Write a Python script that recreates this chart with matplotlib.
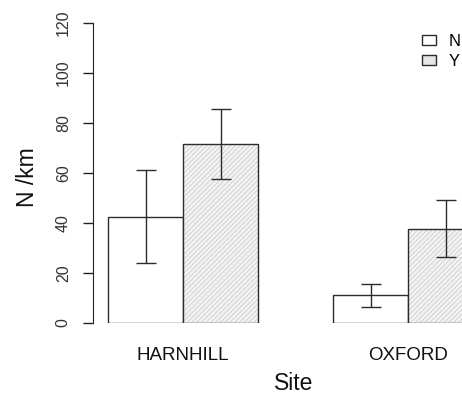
import numpy as np
import matplotlib
matplotlib.use("Agg")
import matplotlib.pyplot as plt
from matplotlib.patches import Patch

plt.rcParams['font.family'] = ['Liberation Sans', 'DejaVu Sans']
plt.rcParams['hatch.linewidth'] = 0.5

# data
sites = ["HARNHILL", "OXFORD"]
groups = ["N", "Y"]
means = {"N": [42.4, 11.2], "Y": [71.6, 37.6]}
lower = {"N": [24.0, 6.4], "Y": [57.6, 26.4]}
upper = {"N": [61.2, 15.6], "Y": [85.6, 49.2]}
yticks = [0, 20, 40, 60, 80, 100, 120]

fig = plt.figure(figsize=(4.62, 4.03), dpi=100)
ax = fig.add_axes([93 / 462, 80 / 403, 369 / 462, 300 / 403])

edge = "#2b2b2b"
# R barplot style layout: space 1 before each group, bars of width 1
for j, site in enumerate(sites):
    start = 1 + 3 * j
    for k, g in enumerate(groups):
        x = start + k + 0.5
        m = means[g][j]
        if g == "Y":
            ax.bar(x, m, width=1, color="#f3f3f3", edgecolor="#c6c6c6",
                   hatch="///////", linewidth=0)
        ax.bar(x, m, width=1, facecolor="none" if g == "Y" else "white",
               edgecolor=edge, linewidth=1.0)
        ax.errorbar(x, m, yerr=[[m - lower[g][j]], [upper[g][j] - m]],
                    fmt="none", ecolor=edge, elinewidth=1.0, capsize=7.2,
                    capthick=1.0)

ax.set_xlim(0.8, 5.72)
ax.set_ylim(0, 120)
for s in ["top", "right", "bottom"]:
    ax.spines[s].set_visible(False)
ax.spines["left"].set_color("#222222")
ax.set_yticks(yticks)
ax.set_yticklabels([str(t) for t in yticks], rotation=90, va="center",
                   fontsize=11.5, color="#333333")
ax.tick_params(axis="y", length=7, width=1, pad=9, color="#222222")
ax.set_xticks([2 + 3 * j for j in range(len(sites))])
ax.set_xticklabels(sites, fontsize=13.5, color="#111111")
ax.tick_params(axis="x", length=0, pad=17)

fig.text(28 / 462, 1 - 177 / 403, "N /km", rotation=90, ha="center",
         va="center", fontsize=16.5, color="#111111")
fig.text(294 / 462, 1 - 383 / 403, "Site", ha="center", va="center",
         fontsize=16.5, color="#111111")

handles = [Patch(facecolor="white", edgecolor=edge, linewidth=1),
           Patch(facecolor="#e6e6e6", edgecolor=edge, linewidth=1)]
leg = ax.legend(handles, groups, loc="upper left",
                bbox_to_anchor=(422 / 462, 1 - 34 / 403),
                bbox_transform=fig.transFigure, frameon=False, fontsize=12,
                handlelength=0.85, handleheight=0.6, handletextpad=0.75,
                labelspacing=0.3, borderpad=0, borderaxespad=0)

fig.savefig("out.png", dpi=100)
